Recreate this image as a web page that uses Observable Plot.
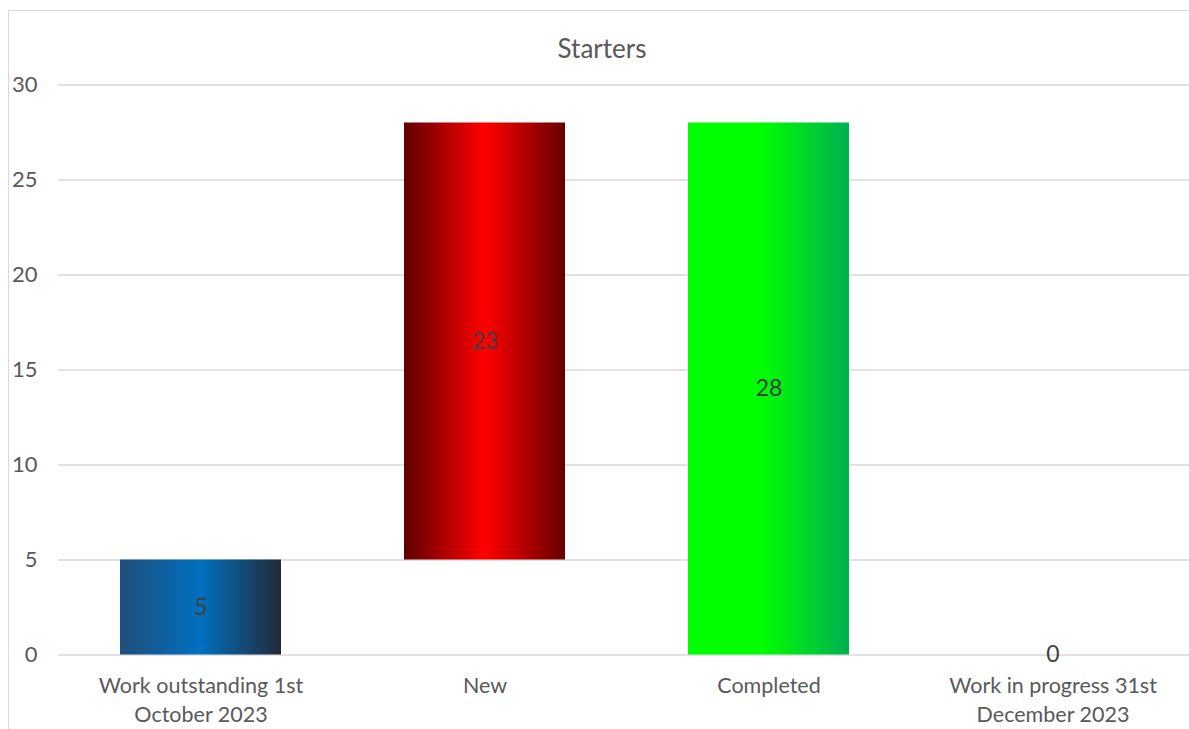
<!DOCTYPE html>
<html>
<head>
<meta charset="utf-8">
<script src="https://cdn.jsdelivr.net/npm/d3@7"></script>
<script src="https://cdn.jsdelivr.net/npm/@observablehq/plot@0.6"></script>
<style>
  html, body { margin: 0; padding: 0; background: #fff; overflow: hidden; }
  #frame {
    position: absolute; left: 8px; top: 10px; width: 1190px; height: 740px;
    border: 1.5px solid #d9d9d9; box-sizing: border-box; background: #fff;
  }
  #title {
    height: 60px; box-sizing: border-box; padding-top: 23px; text-align: center;
    font-family: Lato, "Open Sans", sans-serif; font-size: 26px; color: #595959;
    line-height: 28px; padding-right: 2px;
  }
  #chart svg { display: block; overflow: visible; }
</style>
</head>
<body>
<div id="frame">
  <div id="title">Starters</div>
  <div id="chart"></div>
</div>
<script>
// Waterfall steps for starters over the quarter
const categories = ["Work outstanding 1st October 2023", "New", "Completed", "Work in progress 31st December 2023"];
const tickLabels = ["Work outstanding 1st\nOctober 2023", "New", "Completed", "Work in progress 31st\nDecember 2023"];
const values = [5, 23, 28, 0];
const kinds = ["total", "increase", "decrease", "total"];
const gradients = ["gOutstanding", "gNew", "gCompleted", "gProgress"];
const yTicks = [0, 5, 10, 15, 20, 25, 30];

// running total: totals start from zero, changes float from the previous level
let level = 0;
const rows = categories.map((c, i) => {
  let y1, y2;
  if (kinds[i] === "total") { y1 = 0; y2 = values[i]; level = values[i]; }
  else if (kinds[i] === "increase") { y1 = level; y2 = level + values[i]; level = y2; }
  else { y1 = level; y2 = level - values[i]; level = y2; }
  return { category: c, value: values[i], y1, y2, mid: (y1 + y2) / 2, fill: `url(#${gradients[i]})` };
});

const font = "Lato, 'Open Sans', sans-serif";

const chart = Plot.plot({
  width: 1188,
  height: 662,
  marginTop: 14,
  marginBottom: 78,
  marginLeft: 49,
  marginRight: 0,
  style: { fontFamily: font, background: "transparent" },
  x: { domain: categories, range: [49, 1186], paddingInner: 0.433, paddingOuter: 0.2165, label: null },
  y: { domain: [0, 30], range: [583.5, 13.5], label: null },
  color: { type: "identity" },
  marks: [
    Plot.gridY(yTicks, { stroke: "#d9d9d9", strokeOpacity: 1, strokeWidth: 1.5 }),
    Plot.axisY(yTicks, {
      tickSize: 0, tickPadding: 21, fontSize: 22, fill: "#595959", label: null
    }),
    Plot.axisX({
      tickSize: 0, tickPadding: 17, fontSize: 21.5, fill: "#595959", lineHeight: 1.35, label: null,
      tickFormat: (d) => tickLabels[categories.indexOf(d)]
    }),
    Plot.barY(rows, { x: "category", y1: "y1", y2: "y2", fill: "fill" }),
    Plot.text(rows, {
      x: "category", y: "mid", text: (d) => String(d.value),
      fontSize: 23, fill: "#404040", fontFamily: font
    })
  ]
});

// gradient definitions referenced by the bar fills
const defs = d3.select(chart).insert("defs", ":first-child");
const stopsFor = {
  gOutstanding: [[0, "#1f4e79"], [0.5, "#0070c0"], [1, "#222a35"]],
  gNew: [[0, "#5e0000"], [0.5, "#ff0000"], [1, "#650000"]],
  gCompleted: [[0, "#00ff00"], [0.45, "#00ff00"], [1, "#00b050"]],
  gProgress: [[0, "#1f4e79"], [1, "#1f4e79"]]
};
for (const [id, stops] of Object.entries(stopsFor)) {
  const g = defs.append("linearGradient").attr("id", id)
    .attr("x1", "0%").attr("x2", "100%").attr("y1", "0%").attr("y2", "0%");
  for (const [o, c] of stops) g.append("stop").attr("offset", o).attr("stop-color", c);
}

document.getElementById("chart").appendChild(chart);
</script>
</body>
</html>
